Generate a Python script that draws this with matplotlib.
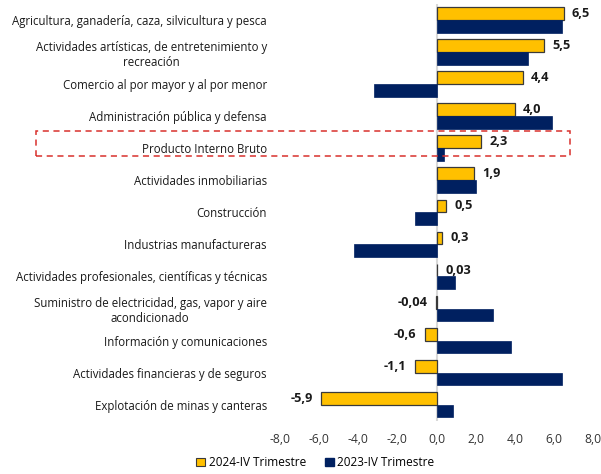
import matplotlib
matplotlib.use("Agg")
import matplotlib.pyplot as plt
from matplotlib.patches import Rectangle, Patch
import numpy as np

plt.rcParams['font.family'] = ['Open Sans', 'DejaVu Sans']

categories = [
    "Agricultura, ganadería, caza, silvicultura y pesca",
    "Actividades artísticas, de entretenimiento y\nrecreación",
    "Comercio al por mayor y al por menor",
    "Administración pública y defensa",
    "Producto Interno Bruto",
    "Actividades inmobiliarias",
    "Construcción",
    "Industrias manufactureras",
    "Actividades profesionales, científicas y técnicas",
    "Suministro de electricidad, gas, vapor y aire\nacondicionado",
    "Información y comunicaciones",
    "Actividades financieras y de seguros",
    "Explotación de minas y canteras",
]
series_2024 = [6.5, 5.5, 4.4, 4.0, 2.3, 1.9, 0.5, 0.3, 0.03, -0.04, -0.6, -1.1, -5.9]
labels_2024 = ["6,5", "5,5", "4,4", "4,0", "2,3", "1,9", "0,5", "0,3", "0,03", "-0,04", "-0,6", "-1,1", "-5,9"]
series_2023 = [6.4, 4.7, -3.2, 5.9, 0.4, 2.0, -1.1, -4.2, 0.95, 2.9, 3.8, 6.4, 0.86]
x_ticks = [-8, -6, -4, -2, 0, 2, 4, 6, 8]
x_tick_labels = ["-8,0", "-6,0", "-4,0", "-2,0", "0,0", "2,0", "4,0", "6,0", "8,0"]
legend_labels = ["2024-IV Trimestre", "2023-IV Trimestre"]

YELLOW = "#FFC000"
NAVY = "#002060"

W, H = 601, 474
fig = plt.figure(figsize=(W / 100, H / 100), dpi=100)
ax = fig.add_axes([280 / W, 1 - 420.7 / H, (593 - 280) / W, (420.7 - 4) / H])

y = np.arange(len(categories))
bh = 0.4
ax.barh(y - bh / 2, series_2024, height=bh, color=YELLOW, edgecolor="#3a3a3a", linewidth=0.9, zorder=3)
ax.barh(y + bh / 2, series_2023, height=bh, color=NAVY, edgecolor=NAVY, linewidth=0.5, zorder=3)

ax.axvline(0, color="#D9D9D9", linewidth=1.5, zorder=1)

for yi, v, lab in zip(y, series_2024, labels_2024):
    if v >= 0:
        ax.annotate(lab, (v, yi - bh / 2), xytext=(6, 0), textcoords="offset points",
                    ha="left", va="center", fontsize=9.2, fontweight="bold", color="#1a1a1a")
    else:
        ax.annotate(lab, (v, yi - bh / 2), xytext=(-6, 0), textcoords="offset points",
                    ha="right", va="center", fontsize=9.2, fontweight="bold", color="#1a1a1a")

ax.set_xlim(-8, 8)
ax.set_ylim(len(categories) - 0.5, -0.5)
ax.set_xticks(x_ticks)
ax.set_xticklabels(x_tick_labels, fontsize=8.7, color="#333333")
ax.set_yticks(y)
ax.set_yticklabels(categories, fontsize=8.3, color="#1a1a1a")
for t in ax.get_yticklabels():
    t.set_multialignment("center")
ax.tick_params(axis="both", length=0)
ax.tick_params(axis="y", pad=9.5)
ax.tick_params(axis="x", pad=8.5)
for s in ax.spines.values():
    s.set_visible(False)

# dashed frame highlighting the GDP row
fig.patches.append(Rectangle((36 / W, 1 - 156 / H), (570 - 36) / W, 25 / H,
                             transform=fig.transFigure, fill=False,
                             edgecolor="#D9302C", linestyle=(0, (4, 3)), linewidth=1.1))

handles = [Patch(facecolor=YELLOW, edgecolor="#3a3a3a", linewidth=0.8),
           Patch(facecolor=NAVY, edgecolor=NAVY)]
fig.legend(handles, legend_labels, loc="lower center", bbox_to_anchor=(0.525, -0.012), ncol=2,
           frameon=False, fontsize=8.5, handlelength=0.75, handleheight=0.75,
           handletextpad=0.3, columnspacing=1.6)

fig.savefig("out.png", dpi=100)
